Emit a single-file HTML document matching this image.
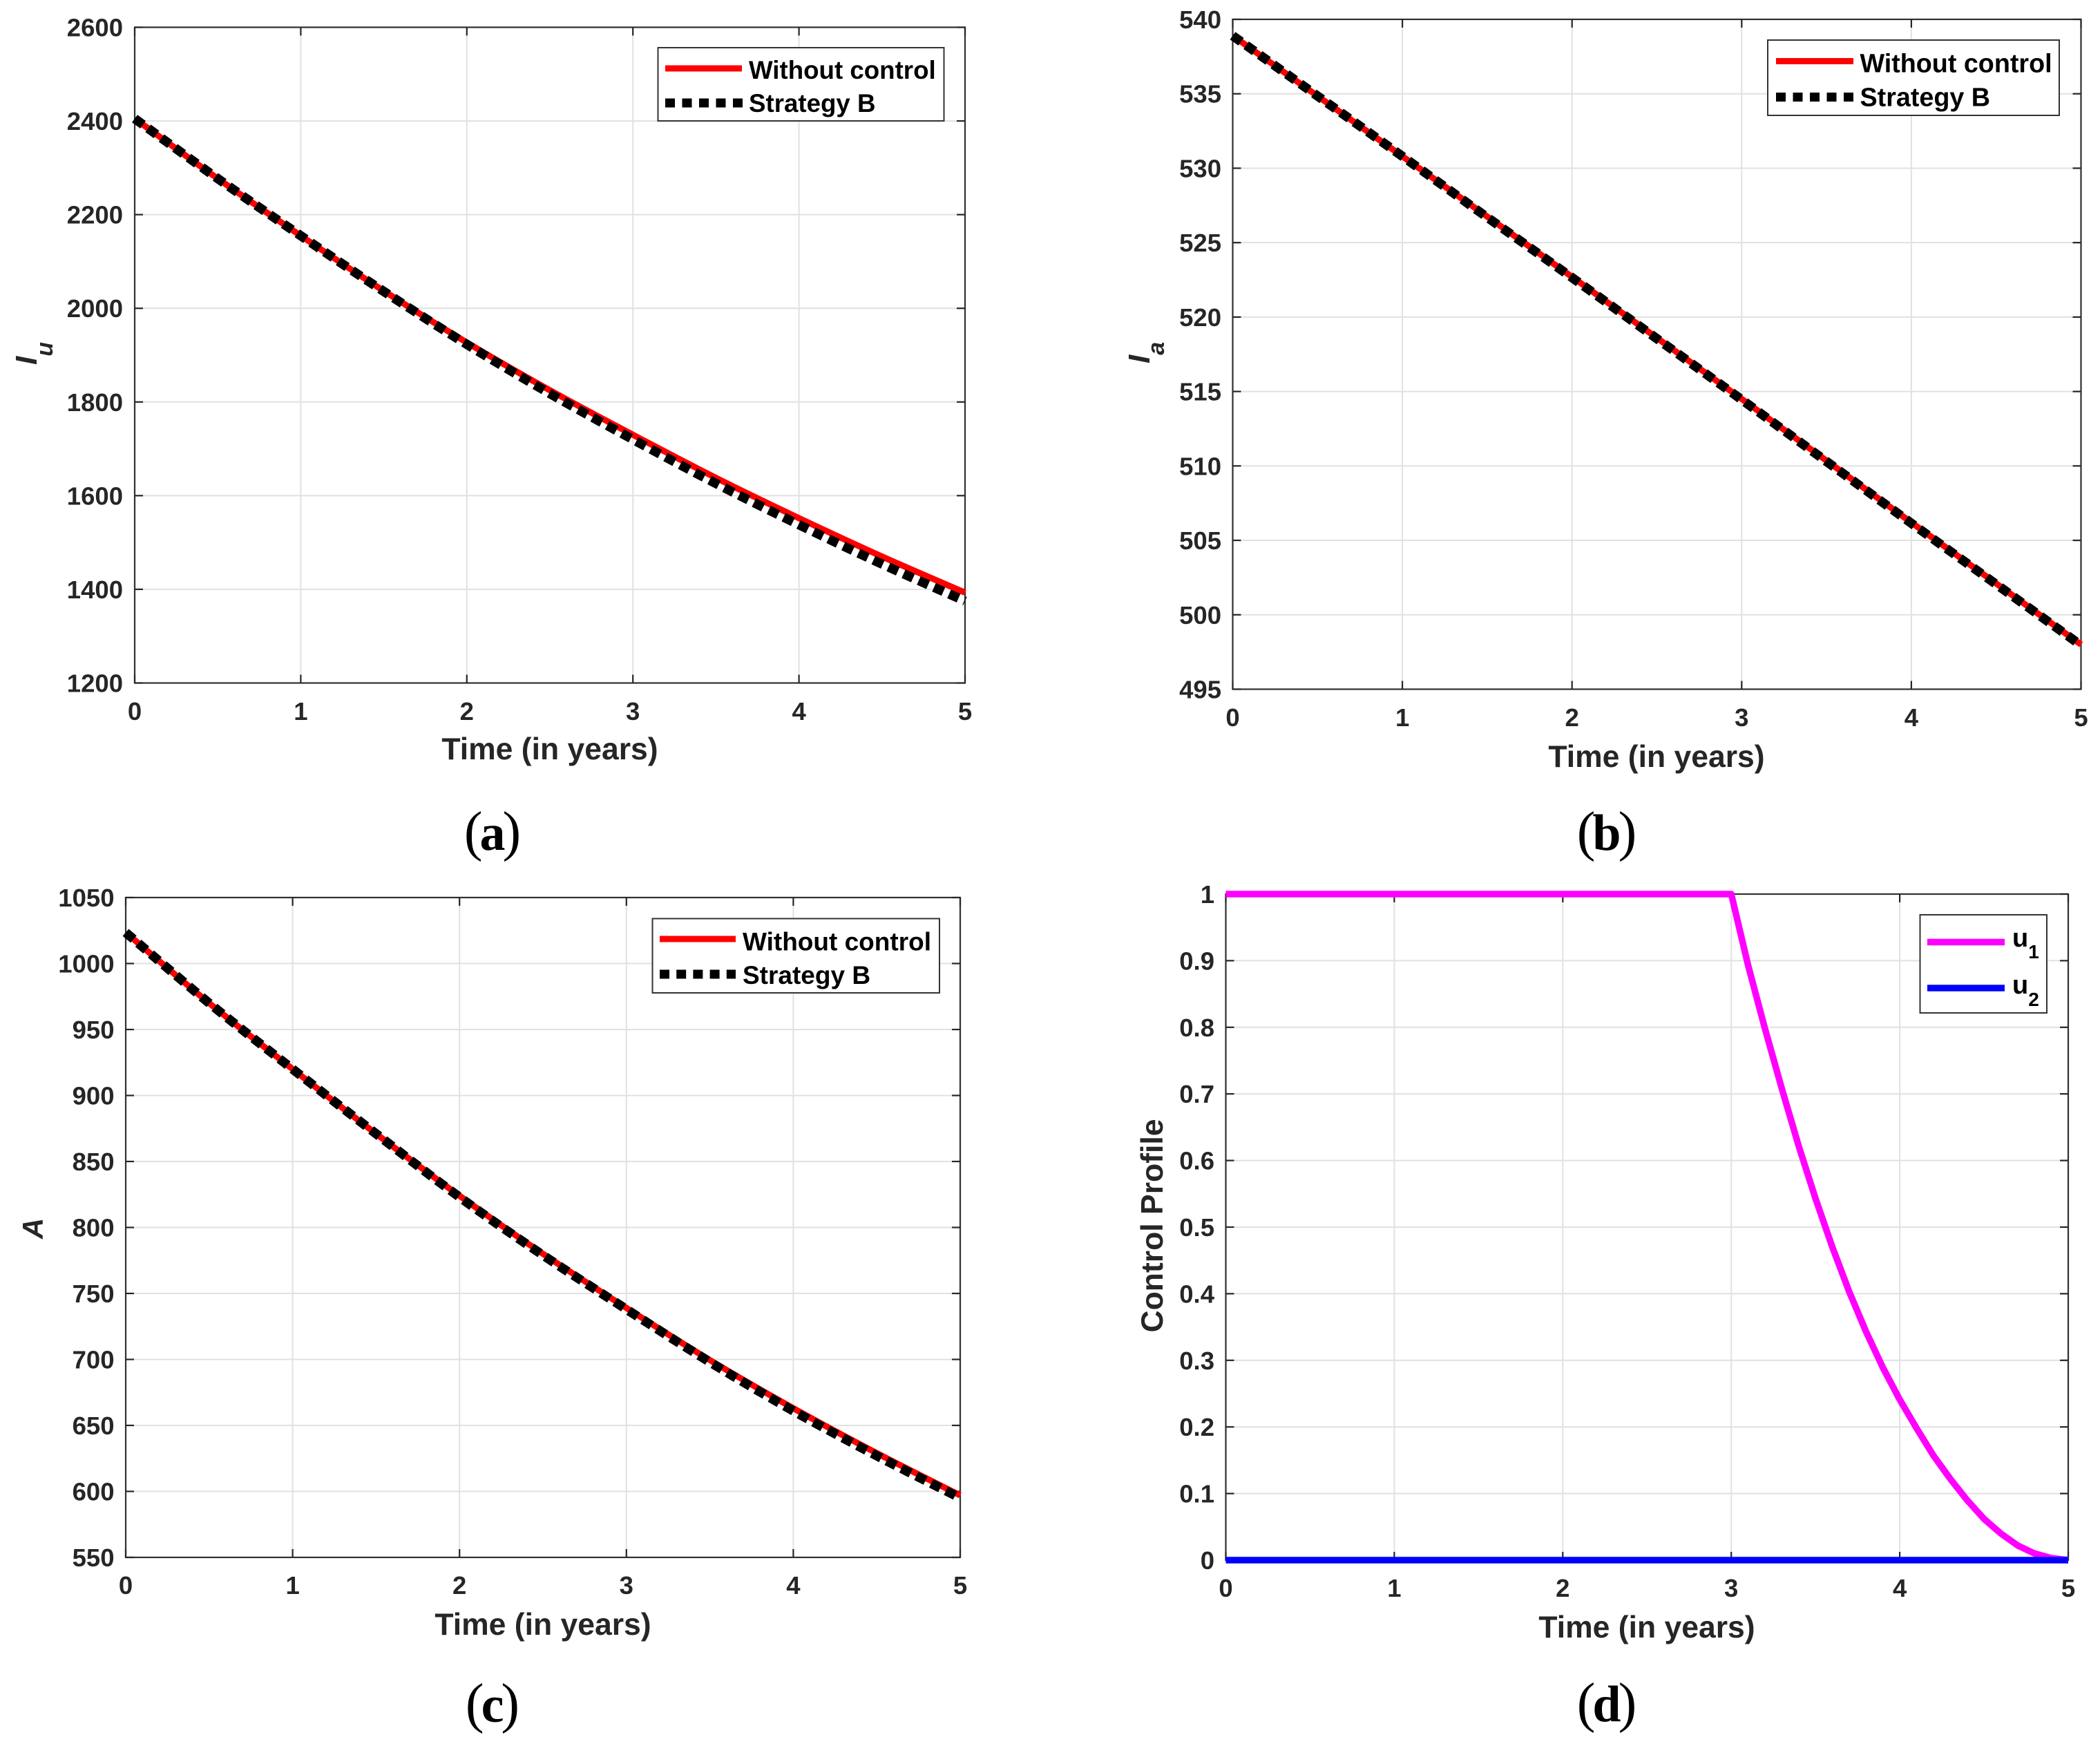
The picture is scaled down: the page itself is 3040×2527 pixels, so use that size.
<!DOCTYPE html>
<html lang="en">
<head>
<meta charset="utf-8">
<title>Four-panel control strategy charts</title>
<style>
html,body{margin:0;padding:0;background:#fff;}
svg{display:block;font-family:"Liberation Sans",Arial,sans-serif;font-weight:bold;}
.legend-text{font-size:37px;fill:#000;}
.axis-title{font-size:44.5px;fill:#262626;text-anchor:middle;}
.symbol{font-size:44px;font-style:italic;fill:#262626;}
.caption{font-family:"Liberation Serif",serif;font-size:74px;fill:#000;text-anchor:middle;}
.caption .paren{font-size:80px;font-weight:normal;}
</style>
</head>
<body>
<svg id="figure" xmlns="http://www.w3.org/2000/svg" width="3040" height="2527" viewBox="0 0 3040 2527">
  <rect x="0" y="0" width="3040" height="2527" fill="#fff"/>

  <g id="panel-a"></g>
  <g id="panel-b"></g>
  <g id="panel-c"></g>
  <g id="panel-d"></g>

  <!-- Panel a labels -->
  <text class="symbol" transform="translate(53,528) rotate(-90)"><tspan>I</tspan><tspan dy="23" font-size="34">u</tspan></text>
  <text class="axis-title" x="796" y="1099">Time (in years)</text>
  <text class="caption" x="713" y="1230"><tspan class="paren">(</tspan><tspan dx="-4">a</tspan><tspan class="paren" dx="-4">)</tspan></text>
  <g>
    <rect x="952.5" y="69" width="414" height="106" fill="#fff" stroke="#333" stroke-width="2"/>
    <line x1="963" x2="1074" y1="99" y2="99" stroke="#f00" stroke-width="9"/>
    <line x1="963" x2="1075" y1="149" y2="149" stroke="#000" stroke-width="13" stroke-dasharray="14 10.5"/>
    <text class="legend-text" x="1084" y="114" style="font-size:36.7px">Without control</text>
    <text class="legend-text" x="1084" y="162" style="font-size:36.7px">Strategy B</text>
  </g>

  <!-- Panel b labels -->
  <text class="symbol" transform="translate(1664,526) rotate(-90)"><tspan>I</tspan><tspan dy="21" font-size="34">a</tspan></text>
  <text class="axis-title" x="2398" y="1110">Time (in years)</text>
  <text class="caption" x="2326" y="1230"><tspan class="paren">(</tspan><tspan dx="-4">b</tspan><tspan class="paren" dx="-4">)</tspan></text>
  <g>
    <rect x="2559" y="58" width="422" height="109" fill="#fff" stroke="#333" stroke-width="2"/>
    <line x1="2571" x2="2683" y1="88.5" y2="88.5" stroke="#f00" stroke-width="9"/>
    <line x1="2571" x2="2683" y1="140.5" y2="140.5" stroke="#000" stroke-width="13" stroke-dasharray="14 10.5"/>
    <text class="legend-text" x="2692.5" y="104.5" style="font-size:37.7px">Without control</text>
    <text class="legend-text" x="2692.5" y="153.5" style="font-size:37.7px">Strategy B</text>
  </g>

  <!-- Panel c labels -->
  <text class="symbol" transform="translate(62,1793) rotate(-90)" style="font-size:42px">A</text>
  <text class="axis-title" x="786" y="2366">Time (in years)</text>
  <text class="caption" x="713" y="2492"><tspan class="paren">(</tspan><tspan dx="-4">c</tspan><tspan class="paren" dx="-4">)</tspan></text>
  <g>
    <rect x="944.5" y="1329.5" width="415.5" height="107.5" fill="#fff" stroke="#333" stroke-width="2"/>
    <line x1="955" x2="1065" y1="1359" y2="1359" stroke="#f00" stroke-width="9"/>
    <line x1="955" x2="1065" y1="1410" y2="1410" stroke="#000" stroke-width="13" stroke-dasharray="14 10.2"/>
    <text class="legend-text" x="1075" y="1375.5">Without control</text>
    <text class="legend-text" x="1075" y="1424">Strategy B</text>
  </g>

  <!-- Panel d labels -->
  <text class="axis-title" transform="translate(1683,1774) rotate(-90)">Control Profile</text>
  <text class="axis-title" x="2384" y="2370">Time (in years)</text>
  <text class="caption" x="2326" y="2491"><tspan class="paren">(</tspan><tspan dx="-4">d</tspan><tspan class="paren" dx="-4">)</tspan></text>
  <g>
    <rect x="2779.5" y="1324" width="183.5" height="142" fill="#fff" stroke="#333" stroke-width="2"/>
    <line x1="2790" x2="2902" y1="1363.5" y2="1363.5" stroke="#f0f" stroke-width="9.5"/>
    <line x1="2790" x2="2902" y1="1430" y2="1430" stroke="#00f" stroke-width="9.5"/>
    <text class="legend-text" x="2913" y="1370" style="font-size:38px">u<tspan dy="17" font-size="28">1</tspan></text>
    <text class="legend-text" x="2913" y="1438" style="font-size:38px">u<tspan dy="18" font-size="28">2</tspan></text>
  </g>
</svg>

<script>
// ---------- Chart data ----------
const xTickValues = [0, 1, 2, 3, 4, 5];

const timeHalfYears = [0, 0.5, 1, 1.5, 2, 2.5, 3, 3.5, 4, 4.5, 5];

const iuTicks = [1200, 1400, 1600, 1800, 2000, 2200, 2400, 2600];
const iuWithoutControl = [2405, 2277, 2155, 2037, 1927, 1825, 1730, 1638, 1552, 1470, 1393];
const iuStrategyB = [2405, 2277, 2155, 2036, 1923, 1818, 1720, 1626, 1538, 1454, 1375];

const iaTicks = [495, 500, 505, 510, 515, 520, 525, 530, 535, 540];
const iaWithoutControl = [538.9, 534.85, 530.8, 526.75, 522.7, 518.6, 514.5, 510.35, 506.2, 502.1, 498.0];
const iaStrategyB = [538.9, 534.85, 530.8, 526.7, 522.65, 518.55, 514.45, 510.3, 506.15, 502.05, 497.95];

const aTicks = [550, 600, 650, 700, 750, 800, 850, 900, 950, 1000, 1050];
const aWithoutControl = [1023.5, 970, 920, 871, 824, 780, 739, 699.5, 663, 629, 597];
const aStrategyB = [1023.5, 970, 920, 871, 823, 779, 738, 698, 661, 627, 595];

const controlTicks = [0, 0.1, 0.2, 0.3, 0.4, 0.5, 0.6, 0.7, 0.8, 0.9, 1];
const controlTime = [0, 3, 3.1, 3.2, 3.3, 3.4, 3.5, 3.6, 3.7, 3.8, 3.9, 4, 4.1, 4.2, 4.3, 4.4, 4.5, 4.6, 4.7, 4.8, 4.9, 5];
const u1Values = [1, 1, 0.893, 0.798, 0.708, 0.622, 0.543, 0.470, 0.403, 0.343, 0.289, 0.241, 0.198, 0.157, 0.122, 0.090, 0.062, 0.040, 0.022, 0.010, 0.003, 0];
const u2Time = [0, 5];
const u2Values = [0, 0];

// ---------- Drawing ----------
const SVG_NS = 'http://www.w3.org/2000/svg';

function makeEl(parent, tag, attrs) {
  const el = document.createElementNS(SVG_NS, tag);
  for (const key in attrs) {
    el.setAttribute(key, attrs[key]);
  }
  parent.appendChild(el);
  return el;
}

function drawAxes(id, box, yTicks, labelRight, xLabelBaseline, xScale, yScale) {
  const group = document.getElementById(id);

  // Grid lines
  xTickValues.forEach(function (v) {
    const el = makeEl(group, 'line', { x1: xScale(v), x2: xScale(v), y1: box.top, y2: box.bottom, stroke: '#e1e1e1', 'stroke-width': 2 });
    
    
  });
  yTicks.forEach(function (v) {
    const el = makeEl(group, 'line', { x1: box.left, x2: box.right, y1: yScale(v), y2: yScale(v), stroke: '#e1e1e1', 'stroke-width': 2 });
    
    
  });

  // Plot frame
  const frame = makeEl(group, 'rect', { x: box.left, y: box.top, width: box.right - box.left, height: box.bottom - box.top, fill: 'none', stroke: '#303030', 'stroke-width': 2.2 });
  
  

  // Tick marks and labels, x axis
  xTickValues.forEach(function (v) {
    const tickBottom = makeEl(group, 'line', { x1: xScale(v), x2: xScale(v), y1: box.bottom, y2: box.bottom - 12, stroke: '#262626', 'stroke-width': 2.2 });
    
    
    const tickTop = makeEl(group, 'line', { x1: xScale(v), x2: xScale(v), y1: box.top, y2: box.top + 12, stroke: '#262626', 'stroke-width': 2.2 });
    
    
    const label = makeEl(group, 'text', { x: xScale(v), y: xLabelBaseline, 'text-anchor': 'middle', 'font-size': 36.5, fill: '#262626' });
    
    
    label.textContent = String(v);
  });

  // Tick marks and labels, y axis
  yTicks.forEach(function (v) {
    const tickLeft = makeEl(group, 'line', { x1: box.left, x2: box.left + 12, y1: yScale(v), y2: yScale(v), stroke: '#262626', 'stroke-width': 2.2 });
    
    
    const tickRight = makeEl(group, 'line', { x1: box.right, x2: box.right - 12, y1: yScale(v), y2: yScale(v), stroke: '#262626', 'stroke-width': 2.2 });
    
    
    const label = makeEl(group, 'text', { x: labelRight, y: yScale(v) + 13, 'text-anchor': 'end', 'font-size': 36.5, fill: '#262626' });
    
    
    label.textContent = String(v);
  });
}

// Builds a path through the data points; smooth=true rounds it with a Catmull-Rom spline.
function buildPath(times, values, xScale, yScale, smooth) {
  const pts = times.map(function (t, i) {
    return [xScale(t), yScale(values[i])];
  });
  let d = 'M' + pts[0][0].toFixed(2) + ' ' + pts[0][1].toFixed(2);
  for (let i = 0; i < pts.length - 1; i++) {
    const p1 = pts[i];
    const p2 = pts[i + 1];
    if (smooth) {
      const p0 = pts[Math.max(i - 1, 0)];
      const p3 = pts[Math.min(i + 2, pts.length - 1)];
      const c1x = p1[0] + (p2[0] - p0[0]) / 6;
      const c1y = p1[1] + (p2[1] - p0[1]) / 6;
      const c2x = p2[0] - (p3[0] - p1[0]) / 6;
      const c2y = p2[1] - (p3[1] - p1[1]) / 6;
      d += ' C' + c1x.toFixed(2) + ' ' + c1y.toFixed(2) + ' ' + c2x.toFixed(2) + ' ' + c2y.toFixed(2) + ' ' + p2[0].toFixed(2) + ' ' + p2[1].toFixed(2);
    } else {
      d += ' L' + p2[0].toFixed(2) + ' ' + p2[1].toFixed(2);
    }
  }
  return d;
}

function drawSeries(id, seriesName, times, values, xScale, yScale, stroke, width, dash, smooth) {
  const group = document.getElementById(id);
  const attrs = { d: buildPath(times, values, xScale, yScale, smooth), fill: 'none', stroke: stroke, 'stroke-width': width, 'stroke-linejoin': 'round' };
  if (dash) {
    attrs['stroke-dasharray'] = dash;
  }
  const el = makeEl(group, 'path', attrs);
  
  
}

function linearScale(domainMin, domainMax, rangeMin, rangeMax) {
  return function (v) {
    return rangeMin + (v - domainMin) / (domainMax - domainMin) * (rangeMax - rangeMin);
  };
}

function first(arr) { return arr[0]; }
function last(arr) { return arr[arr.length - 1]; }

function renderPanel(id, box, yTicks, labelRight, xLabelBaseline, seriesDraw) {
  const xScale = linearScale(first(xTickValues), last(xTickValues), box.left, box.right);
  const yScale = linearScale(first(yTicks), last(yTicks), box.bottom, box.top);
  drawAxes(id, box, yTicks, labelRight, xLabelBaseline, xScale, yScale);
  seriesDraw(xScale, yScale);
}

renderPanel('panel-a', { left: 195, right: 1397, top: 39.5, bottom: 988.5 }, iuTicks, 178, 1042, function (x, y) {
  drawSeries('panel-a', 'without-control', timeHalfYears, iuWithoutControl, x, y, '#f00', 9, null, true);
  drawSeries('panel-a', 'strategy-b', timeHalfYears, iuStrategyB, x, y, '#000', 13.5, '15 9', true);
});

renderPanel('panel-b', { left: 1784.5, right: 3012.5, top: 28, bottom: 997.5 }, iaTicks, 1768, 1051, function (x, y) {
  drawSeries('panel-b', 'without-control', timeHalfYears, iaWithoutControl, x, y, '#f00', 9, null, true);
  drawSeries('panel-b', 'strategy-b', timeHalfYears, iaStrategyB, x, y, '#000', 13.5, '15 9', true);
});

renderPanel('panel-c', { left: 182, right: 1390, top: 1299, bottom: 2254 }, aTicks, 165.5, 2307, function (x, y) {
  drawSeries('panel-c', 'without-control', timeHalfYears, aWithoutControl, x, y, '#f00', 9, null, true);
  drawSeries('panel-c', 'strategy-b', timeHalfYears, aStrategyB, x, y, '#000', 13.5, '15 9', true);
});

renderPanel('panel-d', { left: 1774.5, right: 2994, top: 1294, bottom: 2258 }, controlTicks, 1758, 2311, function (x, y) {
  drawSeries('panel-d', 'u1', controlTime, u1Values, x, y, '#f0f', 9.5, null, false);
  drawSeries('panel-d', 'u2', u2Time, u2Values, x, y, '#00f', 9.5, null, false);
});
</script>
</body>
</html>
